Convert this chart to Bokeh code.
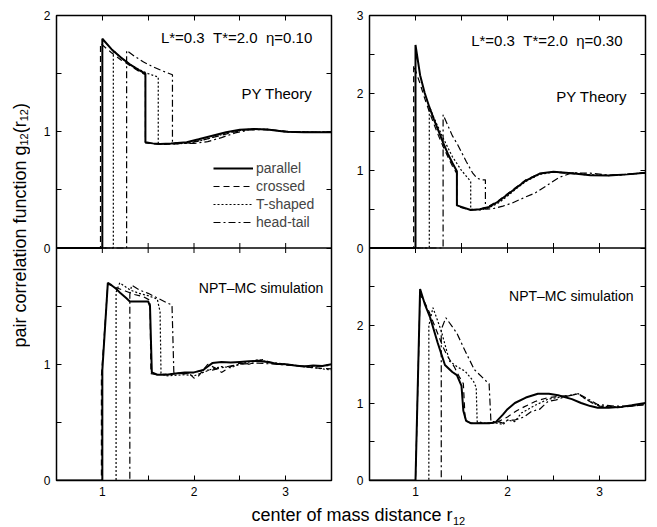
import math
from bokeh.plotting import figure
from bokeh.layouts import row, column
from bokeh.models import Range1d, FixedTicker, LinearAxis, Legend, LegendItem, Span
from bokeh.core.properties import value
from bokeh.embed import file_html
from bokeh.resources import INLINE

FONT = "Liberation Sans"

# ---------------- data ----------------
SERIES_NAMES = ["parallel", "crossed", "T-shaped", "head-tail"]
X_TICKS = [1, 2, 3]
X_MINOR = [0.5, 1.5, 2.5, 3.5]
X_ALL = [0.5, 1, 1.5, 2, 2.5, 3, 3.5]

# top-left: PY theory, eta = 0.10
TL_PAR_X = [0.5, 1.0, 1.0, 1.1, 1.2, 1.3, 1.4, 1.47, 1.47, 1.55, 1.63, 1.75, 1.92, 2.05, 2.2, 2.35, 2.5, 2.65, 2.8, 3.0, 3.2, 3.5]
TL_PAR_Y = [0.0, 0.0, 1.80, 1.71, 1.64, 1.58, 1.53, 1.50, 0.91, 0.90, 0.894, 0.898, 0.91, 0.935, 0.965, 0.995, 1.018, 1.024, 1.02, 1.0, 0.995, 0.995]
TL_CRO_X = [0.5, 0.98, 0.98, 1.1, 1.2, 1.3, 1.4, 1.47, 1.47, 1.55, 1.65, 1.8, 1.95, 2.1, 2.25, 2.4, 2.55, 2.7, 2.9, 3.1, 3.5]
TL_CRO_Y = [0.0, 0.0, 1.76, 1.68, 1.62, 1.57, 1.52, 1.49, 0.905, 0.895, 0.89, 0.895, 0.905, 0.93, 0.96, 0.99, 1.015, 1.022, 1.012, 1.0, 0.995]
TL_TSH_X = [0.5, 1.12, 1.12, 1.2, 1.3, 1.4, 1.5, 1.61, 1.61, 1.7, 1.85, 2.0, 2.15, 2.3, 2.45, 2.6, 2.8, 3.0, 3.5]
TL_TSH_Y = [0.0, 0.0, 1.70, 1.64, 1.58, 1.535, 1.50, 1.47, 0.90, 0.894, 0.897, 0.91, 0.94, 0.975, 1.005, 1.02, 1.02, 1.0, 0.995]
TL_HT_X = [0.5, 1.265, 1.265, 1.35, 1.45, 1.55, 1.65, 1.765, 1.765, 1.85, 2.0, 2.15, 2.3, 2.45, 2.6, 2.8, 3.0, 3.5]
TL_HT_Y = [0.0, 0.0, 1.70, 1.65, 1.60, 1.56, 1.525, 1.49, 0.905, 0.90, 0.90, 0.915, 0.95, 0.99, 1.015, 1.02, 1.0, 0.995]

# top-right: PY theory, eta = 0.30
TR_PAR_X = [0.5, 1.0, 1.0, 1.05, 1.1, 1.15, 1.2, 1.25, 1.3, 1.35, 1.4, 1.45, 1.45, 1.5, 1.6, 1.7, 1.8, 1.9, 2.0, 2.1, 2.2, 2.35, 2.5, 2.7, 2.9, 3.1, 3.3, 3.5]
TR_PAR_Y = [0.0, 0.0, 2.62, 2.23, 2.0, 1.82, 1.66, 1.51, 1.36, 1.22, 1.10, 0.99, 0.55, 0.53, 0.49, 0.50, 0.53, 0.60, 0.69, 0.78, 0.87, 0.96, 0.985, 0.965, 0.94, 0.935, 0.95, 0.97]
TR_CRO_X = [0.5, 0.98, 0.98, 1.05, 1.1, 1.15, 1.2, 1.25, 1.3, 1.35, 1.4, 1.45, 1.45, 1.5, 1.6, 1.7, 1.8, 1.9, 2.0, 2.1, 2.2, 2.35, 2.5, 2.7, 2.9, 3.1, 3.3, 3.5]
TR_CRO_Y = [0.0, 0.0, 2.36, 2.12, 1.93, 1.76, 1.60, 1.45, 1.31, 1.18, 1.06, 0.96, 0.54, 0.52, 0.49, 0.50, 0.54, 0.61, 0.70, 0.79, 0.88, 0.96, 0.98, 0.96, 0.94, 0.935, 0.95, 0.97]
TR_TSH_X = [0.5, 1.15, 1.15, 1.2, 1.3, 1.4, 1.5, 1.6, 1.6, 1.7, 1.8, 1.9, 2.0, 2.1, 2.2, 2.35, 2.5, 2.7, 2.9, 3.1, 3.3, 3.5]
TR_TSH_Y = [0.0, 0.0, 1.83, 1.68, 1.42, 1.18, 1.0, 0.86, 0.50, 0.49, 0.52, 0.58, 0.67, 0.77, 0.86, 0.95, 0.98, 0.97, 0.945, 0.935, 0.95, 0.97]
TR_HT_X = [0.5, 1.30, 1.30, 1.4, 1.46, 1.55, 1.62, 1.67, 1.72, 1.76, 1.76, 1.85, 1.95, 2.05, 2.2, 2.3, 2.42, 2.56, 2.7, 2.9, 3.1, 3.3, 3.5]
TR_HT_Y = [0.0, 0.0, 1.72, 1.45, 1.33, 1.12, 0.97, 0.90, 0.88, 0.88, 0.50, 0.51, 0.54, 0.58, 0.66, 0.71, 0.80, 0.91, 0.97, 0.965, 0.94, 0.95, 0.97]

# bottom-left: NPT-MC simulation, eta = 0.10
BL_PAR_X = [0.5, 1.0, 1.0, 1.06, 1.1, 1.15, 1.2, 1.26, 1.3, 1.4, 1.5, 1.52, 1.54, 1.6, 1.7, 1.8, 1.9, 2.0, 2.1, 2.15, 2.2, 2.3, 2.4, 2.5, 2.6, 2.7, 2.8, 2.9, 3.0, 3.1, 3.2, 3.3, 3.4, 3.5]
BL_PAR_Y = [0.0, 0.0, 0.95, 1.70, 1.68, 1.65, 1.61, 1.57, 1.54, 1.54, 1.54, 1.50, 0.93, 0.91, 0.91, 0.92, 0.93, 0.93, 0.95, 0.98, 1.01, 1.02, 1.015, 1.02, 1.025, 1.03, 1.02, 1.005, 1.0, 0.99, 0.98, 0.99, 0.985, 1.0]
BL_CRO_X = [0.5, 0.99, 0.99, 1.06, 1.15, 1.25, 1.35, 1.45, 1.52, 1.53, 1.6, 1.8, 1.95, 2.0, 2.05, 2.15, 2.25, 2.3, 2.4, 2.5, 2.6, 2.75, 2.9, 3.1, 3.3, 3.5]
BL_CRO_Y = [0.0, 0.0, 0.90, 1.69, 1.66, 1.63, 1.60, 1.58, 1.55, 0.92, 0.91, 0.92, 0.92, 0.88, 0.90, 1.0, 0.96, 0.93, 0.98, 1.01, 1.0, 1.04, 1.0, 0.99, 0.97, 0.96]
BL_TSH_X = [0.5, 1.15, 1.15, 1.19, 1.3, 1.4, 1.5, 1.6, 1.63, 1.64, 1.7, 1.9, 2.0, 2.1, 2.2, 2.3, 2.4, 2.5, 2.7, 2.8, 3.0, 3.2, 3.4, 3.5]
BL_TSH_Y = [0.0, 0.0, 1.62, 1.70, 1.64, 1.61, 1.59, 1.56, 1.45, 0.92, 0.90, 0.91, 0.90, 0.93, 0.96, 0.98, 0.97, 1.0, 1.04, 1.02, 1.0, 0.98, 0.96, 0.95]
BL_HT_X = [0.5, 1.3, 1.3, 1.32, 1.4, 1.5, 1.6, 1.7, 1.76, 1.78, 1.85, 1.9, 2.0, 2.1, 2.2, 2.3, 2.5, 2.7, 2.9, 3.1, 3.3, 3.5]
BL_HT_Y = [0.0, 0.0, 1.60, 1.68, 1.64, 1.61, 1.57, 1.53, 1.51, 0.93, 0.92, 0.92, 0.93, 0.95, 0.95, 0.97, 1.0, 1.01, 1.0, 0.99, 0.98, 0.99]

# bottom-right: NPT-MC simulation, eta = 0.30
BR_PAR_X = [0.5, 1.0, 1.05, 1.1, 1.16, 1.24, 1.32, 1.4, 1.45, 1.5, 1.52, 1.55, 1.6, 1.7, 1.8, 1.87, 1.95, 2.0, 2.08, 2.2, 2.33, 2.45, 2.55, 2.7, 2.8, 2.9, 2.98, 3.1, 3.24, 3.35, 3.5]
BR_PAR_Y = [0.0, 0.0, 2.47, 2.28, 2.10, 1.78, 1.49, 1.40, 1.36, 1.22, 0.90, 0.77, 0.74, 0.74, 0.74, 0.75, 0.85, 0.92, 1.0, 1.07, 1.12, 1.12, 1.10, 1.05, 1.0, 0.96, 0.94, 0.94, 0.95, 0.97, 1.0]
BR_CRO_X = [0.5, 1.0, 1.05, 1.1, 1.15, 1.2, 1.25, 1.3, 1.35, 1.42, 1.48, 1.52, 1.54, 1.6, 1.8, 1.9, 2.0, 2.1, 2.18, 2.3, 2.44, 2.6, 2.7, 2.77, 2.85, 2.92, 3.0, 3.2, 3.35, 3.5]
BR_CRO_Y = [0.0, 0.0, 2.40, 2.30, 2.17, 2.02, 1.87, 1.72, 1.60, 1.47, 1.33, 1.25, 0.78, 0.74, 0.74, 0.76, 0.82, 0.90, 0.95, 1.02, 1.07, 1.09, 1.10, 1.12, 1.05, 1.0, 0.96, 0.94, 0.96, 0.98]
BR_TSH_X = [0.5, 1.145, 1.145, 1.19, 1.28, 1.37, 1.45, 1.54, 1.63, 1.66, 1.67, 1.75, 1.9, 1.95, 2.0, 2.08, 2.15, 2.3, 2.44, 2.6, 2.77, 2.85, 3.0, 3.2, 3.35, 3.5]
BR_TSH_Y = [0.0, 0.0, 2.0, 2.23, 1.93, 1.54, 1.47, 1.41, 1.28, 1.20, 0.76, 0.74, 0.74, 0.72, 0.78, 0.76, 0.87, 0.97, 1.05, 1.08, 1.12, 1.05, 0.96, 0.95, 0.96, 0.98]
BR_HT_X = [0.5, 1.28, 1.28, 1.33, 1.45, 1.54, 1.64, 1.77, 1.8, 1.82, 1.9, 1.95, 2.0, 2.08, 2.18, 2.26, 2.35, 2.44, 2.53, 2.62, 2.77, 2.88, 2.98, 3.16, 3.35, 3.5]
BR_HT_Y = [0.0, 0.0, 1.95, 2.10, 1.90, 1.67, 1.43, 1.28, 1.25, 0.76, 0.76, 0.74, 0.78, 0.78, 0.82, 0.89, 0.92, 1.02, 1.04, 1.08, 1.12, 1.05, 0.98, 0.96, 0.96, 0.98]

# y-axis top values of each column's panels
LEFT_YMAX = 2
RIGHT_YMAX = 3

STYLES = [("solid", 2.0), ("6 4", 1.2), ("2 2", 1.2), ("7 3 2 3", 1.2)]


def style_axis(ax):
    ax.axis_line_color = None
    ax.major_tick_in = 5
    ax.major_tick_out = 0
    ax.minor_tick_in = 5
    ax.minor_tick_out = 0
    ax.major_tick_line_color = "black"
    ax.minor_tick_line_color = "black"
    ax.major_label_text_font = FONT
    ax.major_label_text_color = "black"
    ax.major_label_text_font_size = "12px"
    ax.major_label_standoff = 6


def column_panel(ymax, top_series, bot_series, bl, br, fw):
    """One figure holding two stacked panels: the bottom panel uses the default
    y range, the top panel an extra y range so that it fills the upper half."""
    p = figure(frame_width=fw, frame_height=465,
               x_range=Range1d(0.5, 3.5), y_range=Range1d(0, 2 * ymax),
               output_backend="svg", toolbar_location=None,
               x_axis_location=None, y_axis_location=None,
               min_border_left=bl, min_border_right=br,
               min_border_top=15, min_border_bottom=20)
    p.extra_y_ranges = {"top": Range1d(-ymax, ymax)}
    p.xgrid.visible = False
    p.ygrid.visible = False
    p.outline_line_color = "black"
    p.outline_line_width = 1.5
    p.background_fill_color = "white"
    p.border_fill_color = "white"

    y_major = list(range(0, 2 * ymax + 1))
    y_minor = [v + 0.5 for v in range(0, 2 * ymax)]
    overrides = {v: str(v if v < ymax else v - ymax) for v in y_major}

    left = LinearAxis(ticker=FixedTicker(ticks=y_major, minor_ticks=y_minor),
                      major_label_overrides=overrides)
    style_axis(left)
    p.add_layout(left, "left")

    right = LinearAxis(ticker=FixedTicker(ticks=[], minor_ticks=y_major + y_minor))
    style_axis(right)
    p.add_layout(right, "right")

    above = LinearAxis(ticker=FixedTicker(ticks=[], minor_ticks=X_ALL))
    style_axis(above)
    p.add_layout(above, "above")

    below = LinearAxis(ticker=FixedTicker(ticks=X_TICKS, minor_ticks=X_MINOR))
    style_axis(below)
    p.add_layout(below, "below")

    # boundary between the two stacked panels, with ticks pointing both ways
    p.add_layout(Span(location=ymax, dimension="width", line_color="black", line_width=1.5))
    p.scatter(x=X_ALL, y=[ymax] * len(X_ALL), marker="dash", size=10, angle=math.pi / 2,
              line_color="black", line_width=1)

    top_r = []
    for (xs, ys), (dash, w) in zip(top_series, STYLES):
        top_r.append(p.line(xs, ys, line_color="black", line_width=w, line_dash=dash,
                            y_range_name="top"))
    for (xs, ys), (dash, w) in zip(bot_series, STYLES):
        p.line(xs, ys, line_color="black", line_width=w, line_dash=dash)
    return p, top_r


def annotate(p, xs, ys, texts, size, top):
    kw = dict(y_range_name="top") if top else {}
    p.text(x=xs, y=ys, text=texts, text_font=value(FONT), text_font_size=size,
           text_align="right", text_baseline="alphabetic", text_color="black", **kw)


left_col, tl_r = column_panel(LEFT_YMAX,
                              [(TL_PAR_X, TL_PAR_Y), (TL_CRO_X, TL_CRO_Y), (TL_TSH_X, TL_TSH_Y), (TL_HT_X, TL_HT_Y)],
                              [(BL_PAR_X, BL_PAR_Y), (BL_CRO_X, BL_CRO_Y), (BL_TSH_X, BL_TSH_Y), (BL_HT_X, BL_HT_Y)],
                              26, 18, 275)
right_col, _ = column_panel(RIGHT_YMAX,
                            [(TR_PAR_X, TR_PAR_Y), (TR_CRO_X, TR_CRO_Y), (TR_TSH_X, TR_TSH_Y), (TR_HT_X, TR_HT_Y)],
                            [(BR_PAR_X, BR_PAR_Y), (BR_CRO_X, BR_CRO_Y), (BR_TSH_X, BR_TSH_Y), (BR_HT_X, BR_HT_Y)],
                            20, 12, 276)

annotate(left_col, [3.29, 3.29], [1.81, 1.325], ["L*=0.3 \u00a0T*=2.0 \u00a0η=0.10", "PY Theory"], "15px", True)
annotate(right_col, [3.25, 3.30], [2.68, 1.95], ["L*=0.3 \u00a0T*=2.0 \u00a0η=0.30", "PY Theory"], "15px", True)
annotate(left_col, [3.41], [1.66], ["NPT–MC simulation"], "14px", False)
annotate(right_col, [3.37], [2.38], ["NPT–MC simulation"], "14px", False)

legend = Legend(items=[LegendItem(label=n, renderers=[r]) for n, r in zip(SERIES_NAMES, tl_r)],
                location=(157, 249), padding=0, margin=0, spacing=0,
                glyph_width=40, glyph_height=18, label_height=18, label_standoff=3,
                label_text_font=FONT, label_text_font_size="14px",
                label_text_baseline="middle", border_line_color=None,
                background_fill_alpha=0)
left_col.add_layout(legend)

# ---------------- axis titles ----------------
ylab = figure(frame_width=30, frame_height=527, x_range=Range1d(0, 30), y_range=Range1d(0, 527),
              output_backend="svg", toolbar_location=None, x_axis_location=None, y_axis_location=None,
              min_border=0)
ylab.xgrid.visible = False
ylab.ygrid.visible = False
ylab.outline_line_color = None
ang = math.pi / 2
ylab.text(x=[19], y=[180], text=["pair correlation function g"], angle=ang,
          text_font=value(FONT), text_font_size="18px", text_align="left", text_baseline="alphabetic")
ylab.text(x=[23, 23], y=[382, 406.2], text=["12", "12"], angle=ang,
          text_font=value(FONT), text_font_size="11px", text_align="left", text_baseline="alphabetic")
ylab.text(x=[19, 19], y=[394.2, 418.4], text=["(r", ")"], angle=ang,
          text_font=value(FONT), text_font_size="18px", text_align="left", text_baseline="alphabetic")

xlab = figure(frame_width=627, frame_height=27, x_range=Range1d(0, 627), y_range=Range1d(0, 27),
              output_backend="svg", toolbar_location=None, x_axis_location=None, y_axis_location=None,
              min_border=0)
xlab.xgrid.visible = False
xlab.ygrid.visible = False
xlab.outline_line_color = None
xlab.text(x=[422], y=[13], text=["center of mass distance r"], text_font=value(FONT),
          text_font_size="18px", text_align="right", text_baseline="alphabetic")
xlab.text(x=[422.5], y=[7], text=["12"], text_font=value(FONT),
          text_font_size="11px", text_align="left", text_baseline="alphabetic")

layout = row(ylab, column(row(left_col, right_col), xlab))

open("out.html", "w").write(file_html(layout, INLINE))
